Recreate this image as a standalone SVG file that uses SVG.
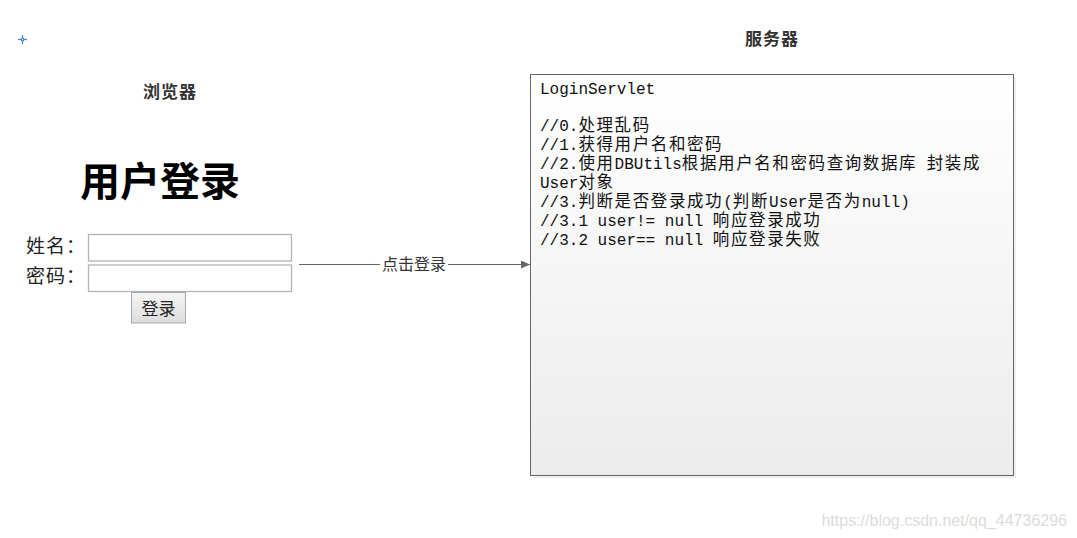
<svg xmlns="http://www.w3.org/2000/svg" width="1077" height="538" viewBox="0 0 1077 538">
<style>
.title{font-family:"Liberation Sans","Noto Sans CJK SC",sans-serif;font-size:17px;font-weight:bold;fill:#333;letter-spacing:1px}
.lbl{font-family:"Liberation Sans","Noto Sans CJK SC",sans-serif;font-size:19px;fill:#222}
.code{font-family:"Liberation Mono","Noto Sans CJK SC",monospace;font-size:16px;fill:#111}
.k{font-family:"Noto Sans CJK SC",sans-serif;font-size:16.5px;letter-spacing:1.6px}
.inp{fill:#fff;stroke:#b4b4b4;stroke-width:1.3}
.edge{stroke:#666;stroke-width:1;fill:none}
</style>
<defs>
<linearGradient id="boxg" x1="0" y1="0" x2="0" y2="1">
<stop offset="0" stop-color="#ffffff"/>
<stop offset="1" stop-color="#ececec"/>
</linearGradient>
<linearGradient id="btng" x1="0" y1="0" x2="0" y2="1">
<stop offset="0" stop-color="#f6f6f6"/>
<stop offset="1" stop-color="#dcdcdc"/>
</linearGradient>
<marker id="arr" markerWidth="10" markerHeight="8" refX="9" refY="4" orient="auto" markerUnits="userSpaceOnUse">
<path d="M0,0 L9,4 L0,8 Z" fill="#666"/>
</marker>
</defs>
<rect width="1077" height="538" fill="#fff"/>

<g id="crosshair" stroke="#4a86d4" stroke-width="1.2" fill="none">
<line x1="18" y1="39.5" x2="27" y2="39.5"/>
<line x1="22.5" y1="35" x2="22.5" y2="44"/>
<circle cx="22.5" cy="39.5" r="1.3" fill="#fff"/>
</g>

<g id="browser">
<text class="title" x="170" y="98" text-anchor="middle">浏览器</text>
<text x="160" y="196" text-anchor="middle" style="font-family:'Noto Sans CJK SC',sans-serif;font-size:40px;font-weight:bold;fill:#000">用户登录</text>
<text class="lbl" x="26" y="253" letter-spacing="1">姓名：</text>
<rect class="inp" x="88.5" y="234.5" width="203" height="26.5"/>
<text class="lbl" x="26" y="283" letter-spacing="1">密码：</text>
<rect class="inp" x="88.5" y="265" width="203" height="26.5"/>
<g id="loginButton">
<rect x="131.5" y="292.5" width="54" height="30.5" fill="url(#btng)" stroke="#a8a8a8"/>
<text x="158.5" y="315" text-anchor="middle" style="font-family:'Noto Sans CJK SC',sans-serif;font-size:17px;fill:#222">登录</text>
</g>
</g>

<g id="server">
<text class="title" x="772" y="45" text-anchor="middle">服务器</text>
<rect x="533" y="77" width="483" height="401" fill="#e4e4e4" opacity="0.6"/>
<rect x="530.5" y="74.5" width="483" height="401" fill="url(#boxg)" stroke="#666"/>
<text class="code" x="540" y="94">LoginServlet</text>
<text class="code" x="540" y="131">//0.<tspan class="k">处理乱码</tspan></text>
<text class="code" x="540" y="150">//1.<tspan class="k">获得用户名和密码</tspan></text>
<text class="code" x="540" y="169">//2.<tspan class="k">使用</tspan>DBUtils<tspan class="k">根据用户名和密码查询数据库</tspan> <tspan class="k">封装成</tspan></text>
<text class="code" x="540" y="188">User<tspan class="k">对象</tspan></text>
<text class="code" x="540" y="207">//3.<tspan class="k">判断是否登录成功</tspan>(<tspan class="k">判断</tspan>User<tspan class="k">是否为</tspan>null)</text>
<text class="code" x="540" y="226">//3.1 user!= null <tspan class="k">响应登录成功</tspan></text>
<text class="code" x="540" y="245">//3.2 user== null <tspan class="k">响应登录失败</tspan></text>
</g>

<g id="connectors">
<line class="edge" x1="299" y1="264.5" x2="530" y2="264.5" marker-end="url(#arr)"/>
<rect x="380" y="254" width="68" height="20" fill="#fff"/>
<text x="414" y="270" text-anchor="middle" style="font-family:'Noto Sans CJK SC',sans-serif;font-size:16px;fill:#333">点击登录</text>
</g>

<text x="1067" y="526" text-anchor="end" style="font-family:'Liberation Sans',sans-serif;font-size:16px;fill:#dcdcdc">https://blog.csdn.net/qq_44736296</text>
</svg>
